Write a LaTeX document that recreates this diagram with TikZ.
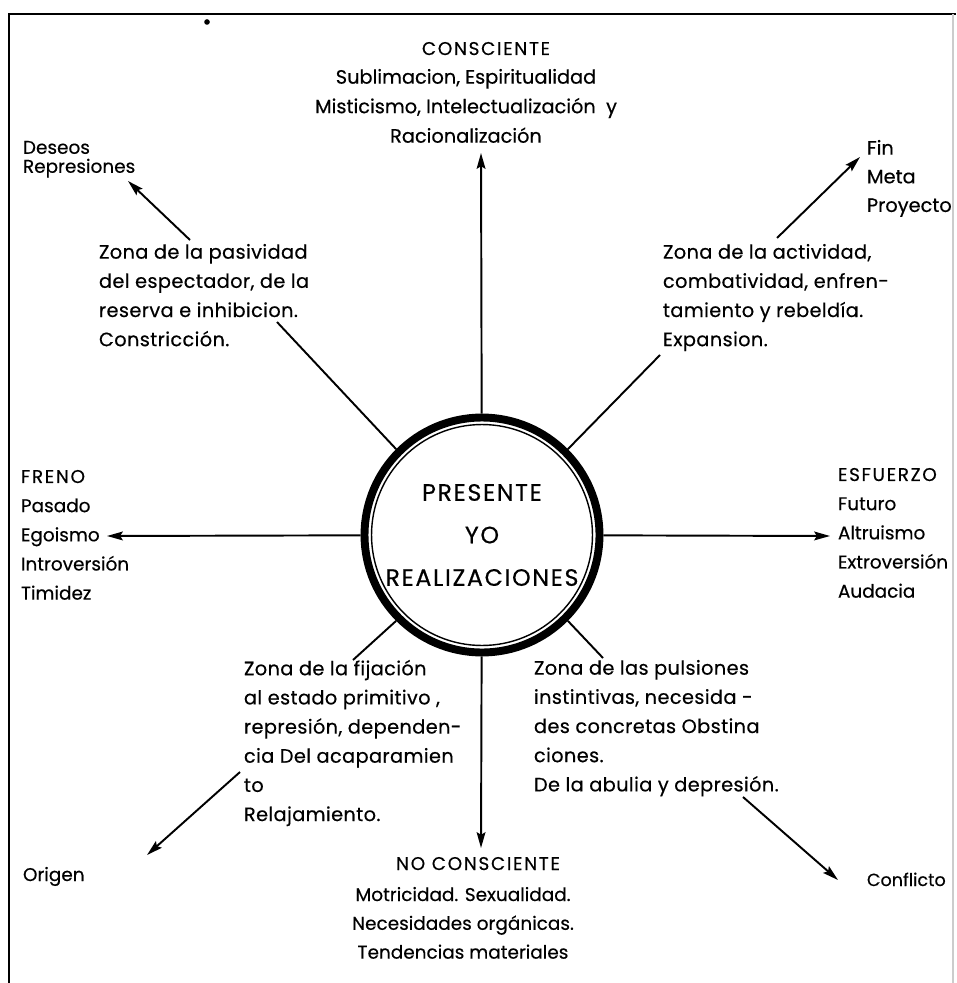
\documentclass[tikz,border=0pt]{standalone}
\usepackage{fontspec}
\setmainfont{Poppins}[FakeBold=0.4]
\usetikzlibrary{positioning,arrows.meta}
\newcommand{\mayus}[1]{{\addfontfeature{LetterSpace=9}#1}}

\begin{document}
\begin{tikzpicture}[x=0.02cm, y=-0.02cm, >={Stealth[length=9pt,width=5pt,inset=1.5pt]}, line width=1.1pt, every node/.style={inner sep=0pt}]
\tikzstyle{blocktext}=[font=\fontsize{10.5}{16.6}\selectfont, align=left, anchor=north west]
\tikzstyle{zonetext}=[blocktext, font=\fontsize{11}{16.6}\selectfont\addfontfeature{LetterSpace=2}]
\tikzstyle{nucleo}=[draw, circle, line width=4.5pt, minimum size=4.7cm, align=center, font=\fontsize{13.5}{24.2}\selectfont\addfontfeature{LetterSpace=7}]
\useasboundingbox (0,0) rectangle (956,983);
% marco
\draw[line width=1pt] (9,983) -- (9,14) -- (956,14);
\draw[gray!40, line width=0.6pt] (953,14) -- (953,983);
\fill (207,22) circle (1.6pt);
% centro
\node[nucleo] (yo) at (482,535) {PRESENTE\\YO\\REALIZACIONES};
\draw[line width=0.8pt] (yo.center) circle (2.21cm);
% textos
\node[anchor=base] (consc) at (486,55) {\fontsize{10.5}{16.6}\selectfont\mayus{CONSCIENTE}};
\node[blocktext, align=center, anchor=north, font=\fontsize{11}{16.8}\selectfont] (conscl) at (466,68) {Sublimacion, Espiritualidad\\Misticismo, Intelectualización~ y\\Racionalización};
\node[blocktext, font=\fontsize{10.5}{10.8}\selectfont] (deseos) at (22,140) {Deseos\\Represiones};
\node[blocktext, font=\fontsize{11}{16.3}\selectfont] (fin) at (866,139) {Fin\\Meta\\Proyecto};
\node[zonetext] (zpas) at (98,243) {Zona de la pasividad\\del espectador, de la\\reserva e inhibicion.\\Constricción.};
\node[zonetext] (zact) at (662,243) {Zona de la actividad,\\combatividad, enfren-\\tamiento y rebeldía.\\Expansion.};
\node[blocktext] (freno) at (20,469) {\mayus{FRENO}\\Pasado\\Egoismo\\Introversión\\Timidez};
\node[blocktext] (esf) at (837,467) {\mayus{ESFUERZO}\\Futuro\\Altruismo\\Extroversión\\Audacia};
\node[zonetext] (zfij) at (243,659) {Zona de la fijación\\al estado primitivo ,\\represión, dependen-\\cia Del acaparamien\\to\\Relajamiento.};
\node[zonetext] (zpul) at (533,659) {Zona de las pulsiones\\instintivas, necesida -\\des concretas Obstina\\ciones.\\De la abulia y depresión.};
\node[anchor=base] (nocontit) at (478,870) {\fontsize{10.5}{16.6}\selectfont\mayus{NO CONSCIENTE}};
\node[blocktext, align=center, anchor=north, font=\fontsize{10.5}{16.4}\selectfont] (nocon) at (463,886) {Motricidad. Sexualidad.\\Necesidades orgánicas.\\Tendencias materiales};
\node[anchor=base west] (origen) at (22,881) {\fontsize{10.5}{16.6}\selectfont Origen};
\node[anchor=base west] (confl) at (866,886) {\fontsize{10}{16.6}\selectfont Conflicto};
% puntos de llegada
\coordinate (tcon) at (481,153);
\coordinate (tnocon) at (481,848);
\coordinate (tfreno) at (107,536);
\coordinate (tesf) at (830,536);
\coordinate (epas) at (277,322);
\coordinate (eact) at (660,355);
\coordinate (efij) at (353,660);
\coordinate (epul) at (603,658);
\coordinate (spas) at (190,240);
\coordinate (tdes) at (128,181);
\coordinate (sact) at (777,238);
\coordinate (tfin) at (860,157);
\coordinate (sfij) at (240,772);
\coordinate (torig) at (147,855);
\coordinate (spul) at (743,797);
\coordinate (tconf) at (838,880);
% flechas
\draw[->] (yo) -- (tcon);
\draw[->] (yo) -- (tnocon);
\draw[->] (yo) -- (tfreno);
\draw[->] (yo) -- (tesf);
\draw (yo.135) -- (epas);
\draw (yo.45) -- (eact);
\draw (yo.-135) -- (efij);
\draw (yo.-45) -- (epul);
\draw[->] (spas) -- (tdes);
\draw[->] (sact) -- (tfin);
\draw[->] (sfij) -- (torig);
\draw[->] (spul) -- (tconf);
\end{tikzpicture}
\end{document}
